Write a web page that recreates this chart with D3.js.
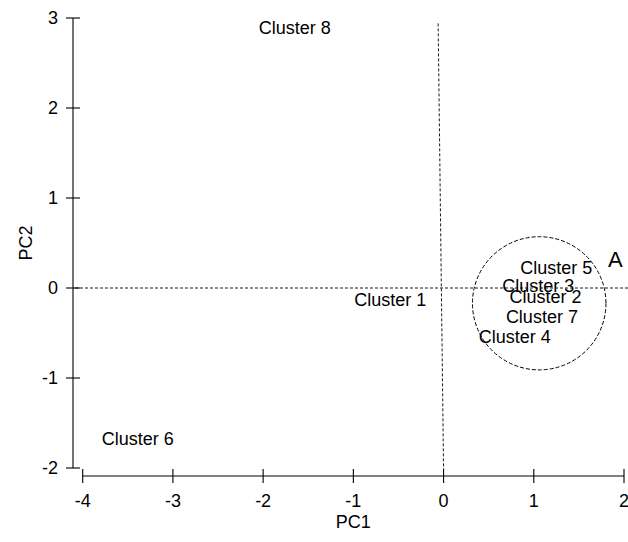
<!DOCTYPE html>
<html>
<head>
<meta charset="utf-8">
<script src="https://cdn.jsdelivr.net/npm/d3@7"></script>
<style>
  html, body { margin: 0; padding: 0; background: #fff; }
  svg { display: block; font-family: Arial, "Liberation Sans", sans-serif; }
</style>
</head>
<body>
<svg id="chart" width="628" height="542"></svg>
<script>
// Cluster centroids on the first two principal components
const clusterNames = ["Cluster 8", "Cluster 6", "Cluster 1", "Cluster 5", "Cluster 3", "Cluster 2", "Cluster 7", "Cluster 4"];
const pc1Values = [-1.65, -3.39, -0.59, 1.25, 1.05, 1.13, 1.09, 0.79];
const pc2Values = [2.89, -1.67, -0.13, 0.23, 0.03, -0.10, -0.32, -0.54];

const xTicks = [-4, -3, -2, -1, 0, 1, 2];
const yTicks = [-2, -1, 0, 1, 2, 3];

// Group A enclosure (centre and radius in PC units)
const groupA = { label: "A", pc1: 1.06, pc2: -0.17, r: 0.74 };

const svg = d3.select("#chart");

const x = d3.scaleLinear().domain([-4, 2]).range([82.7, 624]);
const y = d3.scaleLinear().domain([-2, 3]).range([468, 18]);

const axisY = 476;   // x axis is drawn detached below the plot
const axisX = 73;    // y axis is drawn detached left of the plot

// Reference lines through the origin
svg.append("line")
  .attr("x1", 75).attr("x2", 628)
  .attr("y1", y(0)).attr("y2", y(0))
  .attr("stroke", "#000").attr("stroke-width", 0.9)
  .attr("stroke-dasharray", "3,2");

svg.append("line")
  .attr("x1", x(-0.06)).attr("y1", y(2.94))
  .attr("x2", x(0)).attr("y2", y(-2.02))
  .attr("stroke", "#000").attr("stroke-width", 0.9)
  .attr("stroke-dasharray", "3,2");

// Group A circle
svg.append("ellipse")
  .attr("cx", x(groupA.pc1)).attr("cy", y(groupA.pc2))
  .attr("rx", x(groupA.pc1 + groupA.r) - x(groupA.pc1))
  .attr("ry", y(groupA.pc2) - y(groupA.pc2 + groupA.r))
  .attr("fill", "none")
  .attr("stroke", "#000").attr("stroke-width", 1)
  .attr("stroke-dasharray", "4,2");

svg.append("text")
  .attr("x", x(groupA.pc1 + groupA.r) + 2)
  .attr("y", y(0.23))
  .attr("font-size", 22)
  .attr("fill", "#000")
  .text(groupA.label);

// X axis
const xAxis = svg.append("g").attr("transform", `translate(0,${axisY})`);
xAxis.append("line")
  .attr("x1", x(-4)).attr("x2", x(2))
  .attr("stroke", "#000").attr("stroke-width", 1.1);
xAxis.selectAll("line.tick").data(xTicks).join("line")
  .attr("class", "tick")
  .attr("x1", d => x(d)).attr("x2", d => x(d))
  .attr("y1", -7).attr("y2", 7)
  .attr("stroke", "#000").attr("stroke-width", 1.1);
xAxis.selectAll("text").data(xTicks).join("text")
  .attr("x", d => x(d)).attr("y", 31)
  .attr("text-anchor", "middle")
  .attr("font-size", 18)
  .text(d => d);

// Y axis
const yAxis = svg.append("g").attr("transform", `translate(${axisX},0)`);
yAxis.append("line")
  .attr("y1", y(-2)).attr("y2", y(3))
  .attr("stroke", "#000").attr("stroke-width", 1.1);
yAxis.selectAll("line.tick").data(yTicks).join("line")
  .attr("class", "tick")
  .attr("y1", d => y(d)).attr("y2", d => y(d))
  .attr("x1", -7).attr("x2", 7)
  .attr("stroke", "#000").attr("stroke-width", 1.1);
yAxis.selectAll("text").data(yTicks).join("text")
  .attr("x", -15).attr("y", d => y(d))
  .attr("dy", "0.36em")
  .attr("text-anchor", "end")
  .attr("font-size", 18)
  .text(d => d);

// Axis titles
svg.append("text")
  .attr("x", x(-1)).attr("y", 528)
  .attr("text-anchor", "middle")
  .attr("font-size", 18)
  .text("PC1");

svg.append("text")
  .attr("transform", `translate(32,${y(0.5)}) rotate(-90)`)
  .attr("text-anchor", "middle")
  .attr("font-size", 18)
  .text("PC2");

// Cluster labels placed at their centroids
svg.append("g").selectAll("text")
  .data(clusterNames.map((n, i) => ({ name: n, pc1: pc1Values[i], pc2: pc2Values[i] })))
  .join("text")
  .attr("x", d => x(d.pc1))
  .attr("y", d => y(d.pc2))
  .attr("dy", "0.36em")
  .attr("text-anchor", "middle")
  .attr("font-size", 18)
  .attr("fill", "#000")
  .text(d => d.name);
</script>
</body>
</html>
